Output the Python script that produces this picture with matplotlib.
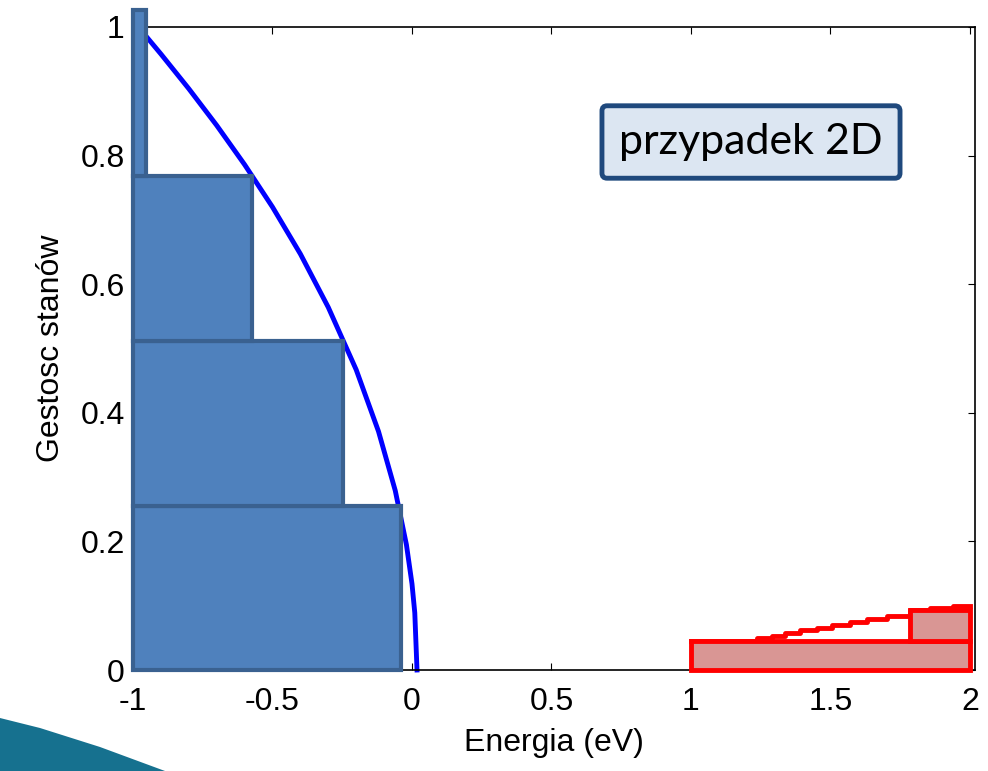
import matplotlib.pyplot as plt
from matplotlib.patches import Polygon
import numpy as np

# valence band steps (left edge at -1)
blue_right = [-0.039, -0.247, -0.573, -0.953]
blue_bottom = [0.0, 0.255, 0.512, 0.768]
blue_top = [0.255, 0.512, 0.768, 1.026]

# valence band curve
curve_x = [-0.95, -0.9, -0.8, -0.7, -0.6, -0.5, -0.4, -0.3, -0.2, -0.12, -0.06, -0.02, 0.0, 0.01, 0.018]
curve_y = [0.984, 0.958, 0.904, 0.847, 0.786, 0.720, 0.647, 0.564, 0.467, 0.371, 0.279, 0.195, 0.134, 0.089, 0.0]

# conduction band steps
red_left = [1.0, 1.785]
red_bottom = [0.0, 0.045]
red_top = [0.045, 0.093]
red_right = 2.0

# conduction band stair line
stair_x = [1.0, 1.235, 1.289, 1.337, 1.391, 1.450, 1.504, 1.570, 1.630, 1.701, 1.785, 1.857, 1.940, 2.0]
stair_y = [0.045, 0.049, 0.053, 0.058, 0.062, 0.066, 0.070, 0.075, 0.080, 0.084, 0.093, 0.096, 0.100, 0.100]

xticks = [-1, -0.5, 0, 0.5, 1, 1.5, 2]
xticklabels = ['-1', '-0.5', '0', '0.5', '1', '1.5', '2']
yticks = [0, 0.2, 0.4, 0.6, 0.8, 1]
yticklabels = ['0', '0.2', '0.4', '0.6', '0.8', '1']

plt.rcParams['font.family'] = ['Liberation Sans', 'DejaVu Sans']

fig = plt.figure(figsize=(9.88, 7.71), dpi=100)
ax = fig.add_axes([133/988, 101/771, 842/988, 643/771])

# blue bars
for r, b, t in zip(blue_right, blue_bottom, blue_top):
    ax.barh(b, r - (-1), height=t - b, left=-1, align='edge',
            color='#4f81bd', edgecolor='#3a6190', linewidth=3, clip_on=False, zorder=3)

ax.plot(curve_x, curve_y, color='#0000ff', linewidth=3.5, zorder=2, clip_on=False)

# red bars
for l, b, t in zip(red_left, red_bottom, red_top):
    ax.barh(b, red_right - l, height=t - b, left=l, align='edge',
            color='#d99694', edgecolor='#ff0000', linewidth=3.5, clip_on=False, zorder=3)

ax.plot(stair_x, stair_y, color='#ff0000', linewidth=3.5, drawstyle='steps-post',
        zorder=2, clip_on=False)

ax.set_xlim(-1, 2.018)
ax.set_ylim(0, 1)
ax.set_xticks(xticks)
ax.set_xticklabels(xticklabels)
ax.set_yticks(yticks)
ax.set_yticklabels(yticklabels)
ax.tick_params(direction='in', length=5, top=True, right=True, labelsize=23)
ax.tick_params(axis='x', pad=12)
ax.tick_params(axis='y', pad=6)
for s in ax.spines.values():
    s.set_linewidth(1.2)

ax.set_xlabel('Energia (eV)', fontsize=23, labelpad=8)
ax.set_ylabel('Gestosc stanów', fontsize=23, labelpad=10)

fig.text(751/988, 1 - 142/771, 'przypadek 2D', fontsize=31, family=['Lato', 'DejaVu Sans'],
         ha='center', va='center',
         bbox=dict(boxstyle='round,pad=0.4,rounding_size=0.12', facecolor='#dce6f2',
                   edgecolor='#1f497d', linewidth=3.5))

# slide decoration bottom-left
pts = np.array([[0, 718], [40, 728], [100, 747], [165, 771], [0, 771]], dtype=float)
pts[:, 0] /= 988
pts[:, 1] = 1 - pts[:, 1] / 771
fig.patches.append(Polygon(pts, closed=True, transform=fig.transFigure,
                           facecolor='#16718f', edgecolor='none'))

fig.savefig('out.png', dpi=100)
